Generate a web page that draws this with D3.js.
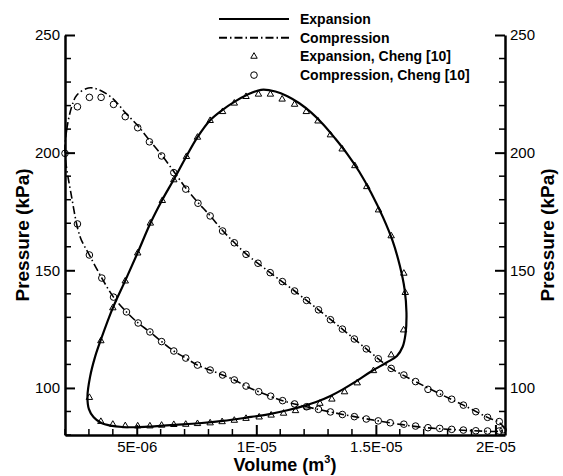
<!DOCTYPE html>
<html>
<head>
<meta charset="utf-8">
<script src="https://cdn.jsdelivr.net/npm/d3@7"></script>
<style>
  body { margin: 0; background: #fff; }
  text { font-family: "Liberation Sans", Arial, sans-serif; }
</style>
</head>
<body>
<div id="chart"></div>
<script>
// volumes in units of 1e-6 m^3, pressures in kPa

// model, expansion (closed loop)
var expansionLine = [
  [2.94, 96.5], [3.05, 104.8], [3.26, 113.3], [3.5, 120.5], [4.0, 134], [4.52, 145.6],
  [5.04, 157.5], [5.57, 170], [6.07, 180], [6.55, 188.6], [7.08, 198.5], [7.54, 206.6],
  [8.07, 213.8], [8.59, 218.2], [9.08, 221.6], [9.6, 224.5], [10.2, 226.7], [10.8, 226],
  [11.3, 224], [11.8, 221], [12.3, 217], [12.8, 212], [13.3, 206], [13.8, 199.5],
  [14.3, 192], [14.8, 183], [15.3, 172.5], [15.7, 162.5], [16.0, 152], [16.2, 142],
  [16.28, 132], [16.24, 123], [16.12, 117.5], [15.88, 113.6], [15.45, 110.8], [14.8, 107],
  [14.2, 103], [13.6, 99.3], [13.1, 96.6], [12.5, 94], [12.0, 92.4], [11.3, 90.5],
  [10.5, 88.8], [9.6, 87.4], [8.6, 86], [7.6, 85], [6.6, 84.3], [5.6, 83.6], [5.0, 83.3],
  [4.4, 83.4], [3.9, 84], [3.5, 85.2], [3.2, 87.5], [3.0, 91]
];

// model, compression (closed loop)
var compressionLine = [
  [2.0, 200], [2.07, 209.6], [2.28, 219.5], [2.5, 224.5], [2.98, 227.5], [3.4, 226.8],
  [4.0, 223], [4.52, 217], [5.04, 211.5], [5.53, 205.3], [6.04, 199], [6.55, 192],
  [7.05, 185], [7.56, 178.8], [8.07, 173.2], [8.59, 166.9], [9.08, 161.8], [9.57, 157],
  [10.58, 149], [11.6, 141.2], [12.6, 133.2], [13.6, 125], [14.6, 116.6], [15.64, 108.3],
  [16.66, 102.7], [17.67, 97.5], [18.66, 92.7], [19.67, 87.5], [20.16, 85.3], [20.38, 82.3],
  [20.16, 81.6], [19.1, 81.8], [18.1, 82.4], [17.1, 83.1], [16.1, 84.4], [15.1, 86],
  [14.1, 87.8], [13.1, 89.8], [12.1, 92], [11.1, 94.6], [10.1, 98.4], [9.57, 100.8],
  [9.08, 103.4], [8.59, 105.5], [8.07, 107.6], [7.54, 109.7], [7.05, 112.7], [6.55, 115.7],
  [6.04, 119.7], [5.55, 123.8], [5.06, 127.6], [4.57, 132.3], [4.03, 138.6], [3.54, 146.7],
  [3.02, 156.5], [2.63, 164.3], [2.28, 181]
];

// Cheng [10], expansion
var chengExpansion = [
  [3.02, 95.9], [3.5, 120], [4.0, 134], [4.52, 145.4], [5.04, 157.3], [5.57, 170],
  [6.07, 179.6], [6.55, 188.4], [7.08, 198.3], [7.54, 206.5], [8.07, 213.6], [8.59, 217.4],
  [9.08, 221], [9.57, 223.8], [10.09, 224.8], [10.59, 224.8], [11.08, 222.7], [11.6, 220.5],
  [12.09, 217.4], [12.58, 213.4], [13.1, 207.5], [13.59, 201.5], [14.12, 194.4],
  [14.62, 185.5], [15.11, 175.6], [15.64, 164.6], [16.17, 148.7], [16.23, 140.5],
  [16.16, 124.6], [15.64, 114], [14.9, 107.3], [14.22, 102.1], [13.69, 98.3], [13.16, 95.2],
  [12.66, 93.4], [12.13, 91.8], [11.64, 90.3], [11.14, 89.2], [10.62, 88.4], [10.12, 87.6],
  [9.57, 87.0], [9.08, 86.2], [8.57, 85.6], [8.07, 85.1], [7.54, 84.8], [7.05, 84.5],
  [6.55, 84.4], [6.04, 84.1], [5.55, 83.8], [5.04, 83.8], [4.52, 83.9], [4.0, 84.5], [3.5, 85.7]
];

// Cheng [10], compression
var chengCompression = [
  [2.0, 199.7], [2.52, 219.5], [3.02, 223.5], [3.51, 223.5], [4.03, 220.5], [4.52, 215.3],
  [5.04, 210.6], [5.53, 204.6], [6.04, 198.6], [6.55, 191.5], [7.05, 184.5], [7.56, 178.5],
  [8.07, 173.1], [8.59, 166.7], [9.08, 161.7], [9.57, 156.8], [10.07, 153], [10.58, 149],
  [11.09, 145.2], [11.6, 141.2], [12.1, 137.2], [12.6, 133.2], [13.1, 129], [13.6, 125],
  [14.1, 120.8], [14.6, 116.6], [15.1, 112.4], [15.64, 108.3], [16.17, 105.5], [16.66, 102.7],
  [17.18, 99.4], [17.67, 97.7], [18.17, 95.2], [18.66, 92.7], [19.18, 89.9], [19.67, 87.5],
  [20.16, 85.7], [20.32, 82.2],
  [2.52, 169.7], [3.02, 156.5], [3.54, 146.7], [4.03, 138.6], [4.57, 132.3], [5.06, 127.6],
  [5.55, 123.8], [6.04, 119.7], [6.55, 115.7], [7.05, 112.7], [7.54, 109.7], [8.07, 107.6],
  [8.59, 105.5], [9.08, 103.4], [9.57, 100.8], [10.1, 98.4], [10.6, 96.5], [11.1, 94.6],
  [11.6, 93.2], [12.1, 92], [12.6, 90.9], [13.1, 89.8], [13.6, 88.7], [14.1, 87.8],
  [14.6, 86.8], [15.1, 86], [15.6, 85.2], [16.17, 84.6], [16.66, 83.8], [17.18, 83.1],
  [17.67, 82.8], [18.17, 82.4], [18.66, 82.1], [19.18, 81.8], [19.67, 81.7], [20.16, 81.7]
];

var xTicks = [5e-6, 1e-5, 1.5e-5, 2e-5];
var xTickLabels = ["5E-06", "1E-05", "1.5E-05", "2E-05"];
var yTicks = [100, 150, 200, 250];
var legendLabels = ["Expansion", "Compression", "Expansion, Cheng [10]", "Compression, Cheng [10]"];

var width = 563, height = 476;
var plotL = 65, plotR = 505, plotT = 35, plotB = 435;

var svg = d3.select('#chart')
  .append('svg')
  .attr('width', width)
  .attr('height', height);

var x = d3.scaleLinear().domain([2e-6, 2.04e-5]).range([plotL, plotR]);
var y = d3.scaleLinear().domain([80, 250]).range([plotB, plotT]);

var px = function(d) { return x(d[0] * 1e-6); };
var py = function(d) { return y(d[1]); };

var dashDot = '8,3,1.5,3';

// minor ticks
var xMinor = d3.range(2e-6, 2.04e-5, 1e-6).filter(function(v) {
  return xTicks.every(function(t) { return Math.abs(t - v) > 1e-9; });
});
var yMinor = d3.range(80, 251, 10).filter(function(v) { return yTicks.indexOf(v) < 0; });

var ticks = svg.append('g').attr('stroke', '#000').attr('stroke-width', 1.5);
ticks.selectAll('.xminor').data(xMinor).enter().append('line')
  .attr('x1', x).attr('x2', x).attr('y1', plotB).attr('y2', plotB - 6);
ticks.selectAll('.yminorl').data(yMinor).enter().append('line')
  .attr('x1', plotL).attr('x2', plotL + 6).attr('y1', y).attr('y2', y);
ticks.selectAll('.yminorr').data(yMinor).enter().append('line')
  .attr('x1', plotR).attr('x2', plotR - 6).attr('y1', y).attr('y2', y);

// axes with inward ticks
var xAxis = d3.axisBottom(x).tickValues(xTicks)
  .tickFormat(function(d, i) { return xTickLabels[i]; })
  .tickSizeInner(-10).tickSizeOuter(0).tickPadding(6);
var yAxisL = d3.axisLeft(y).tickValues(yTicks).tickSizeInner(-10).tickSizeOuter(0).tickPadding(5);
var yAxisR = d3.axisRight(y).tickValues(yTicks).tickSizeInner(-10).tickSizeOuter(0).tickPadding(5);

function styleAxis(g) {
  g.selectAll('path').attr('stroke', '#000').attr('stroke-width', 2.5);
  g.selectAll('line').attr('stroke', '#000').attr('stroke-width', 2);
  g.selectAll('text').attr('font-size', 15).attr('fill', '#000')
    .attr('font-family', '"Liberation Sans", Arial, sans-serif');
}

svg.append('g').attr('transform', 'translate(0,' + plotB + ')').call(xAxis).call(styleAxis);
svg.append('g').attr('transform', 'translate(' + plotL + ',0)').call(yAxisL).call(styleAxis);
svg.append('g').attr('transform', 'translate(' + plotR + ',0)').call(yAxisR).call(styleAxis);

// curves
var loop = d3.line().x(px).y(py).curve(d3.curveCatmullRomClosed.alpha(0.5));

svg.append('path')
  .attr('d', loop(expansionLine))
  .attr('fill', 'none').attr('stroke', '#000').attr('stroke-width', 2.2);

svg.append('path')
  .attr('d', loop(compressionLine))
  .attr('fill', 'none').attr('stroke', '#000').attr('stroke-width', 1.6)
  .attr('stroke-dasharray', dashDot);

var tri = d3.symbol().type(d3.symbolTriangle).size(18);

svg.append('g').selectAll('path')
  .data(chengExpansion)
  .enter()
  .append('path')
  .attr('d', tri)
  .attr('transform', function(d) { return 'translate(' + px(d) + ',' + py(d) + ')'; })
  .attr('fill', 'none').attr('stroke', '#000').attr('stroke-width', 1);

svg.append('g').selectAll('circle')
  .data(chengCompression)
  .enter()
  .append('circle')
  .attr('cx', px).attr('cy', py).attr('r', 3.3)
  .attr('fill', 'none').attr('stroke', '#000').attr('stroke-width', 1);

// axis titles
var xt = svg.append('text')
  .attr('x', (plotL + plotR) / 2).attr('y', 471)
  .attr('text-anchor', 'middle').attr('font-size', 18).attr('font-weight', 'bold');
xt.append('tspan').text('Volume (m');
xt.append('tspan').attr('font-size', 11).attr('dy', -8).text('3');
xt.append('tspan').attr('dy', 8).text(')');

svg.append('text')
  .attr('transform', 'translate(29,' + (plotT + plotB) / 2 + ') rotate(-90)')
  .attr('text-anchor', 'middle').attr('font-size', 19).attr('font-weight', 'bold')
  .text('Pressure (kPa)');
svg.append('text')
  .attr('transform', 'translate(554,' + (plotT + plotB) / 2 + ') rotate(-90)')
  .attr('text-anchor', 'middle').attr('font-size', 19).attr('font-weight', 'bold')
  .text('Pressure (kPa)');

// legend
var legend = svg.append('g');
var rows = legendLabels.map(function(l, i) { return { label: l, y: 19 + i * 18.7 }; });
legend.selectAll('text').data(rows).enter().append('text')
  .attr('x', 300).attr('y', function(d) { return d.y; }).attr('dy', '0.35em')
  .attr('font-size', 14).attr('font-weight', 'bold')
  .text(function(d) { return d.label; });
legend.append('line').attr('x1', 219).attr('x2', 289).attr('y1', rows[0].y).attr('y2', rows[0].y)
  .attr('stroke', '#000').attr('stroke-width', 2);
legend.append('line').attr('x1', 219).attr('x2', 289).attr('y1', rows[1].y).attr('y2', rows[1].y)
  .attr('stroke', '#000').attr('stroke-width', 2).attr('stroke-dasharray', dashDot);
legend.append('path').attr('d', tri)
  .attr('transform', 'translate(254,' + rows[2].y + ')')
  .attr('fill', 'none').attr('stroke', '#000').attr('stroke-width', 1);
legend.append('circle').attr('cx', 254).attr('cy', rows[3].y).attr('r', 3.3)
  .attr('fill', 'none').attr('stroke', '#000').attr('stroke-width', 1);
</script>
</body>
</html>
